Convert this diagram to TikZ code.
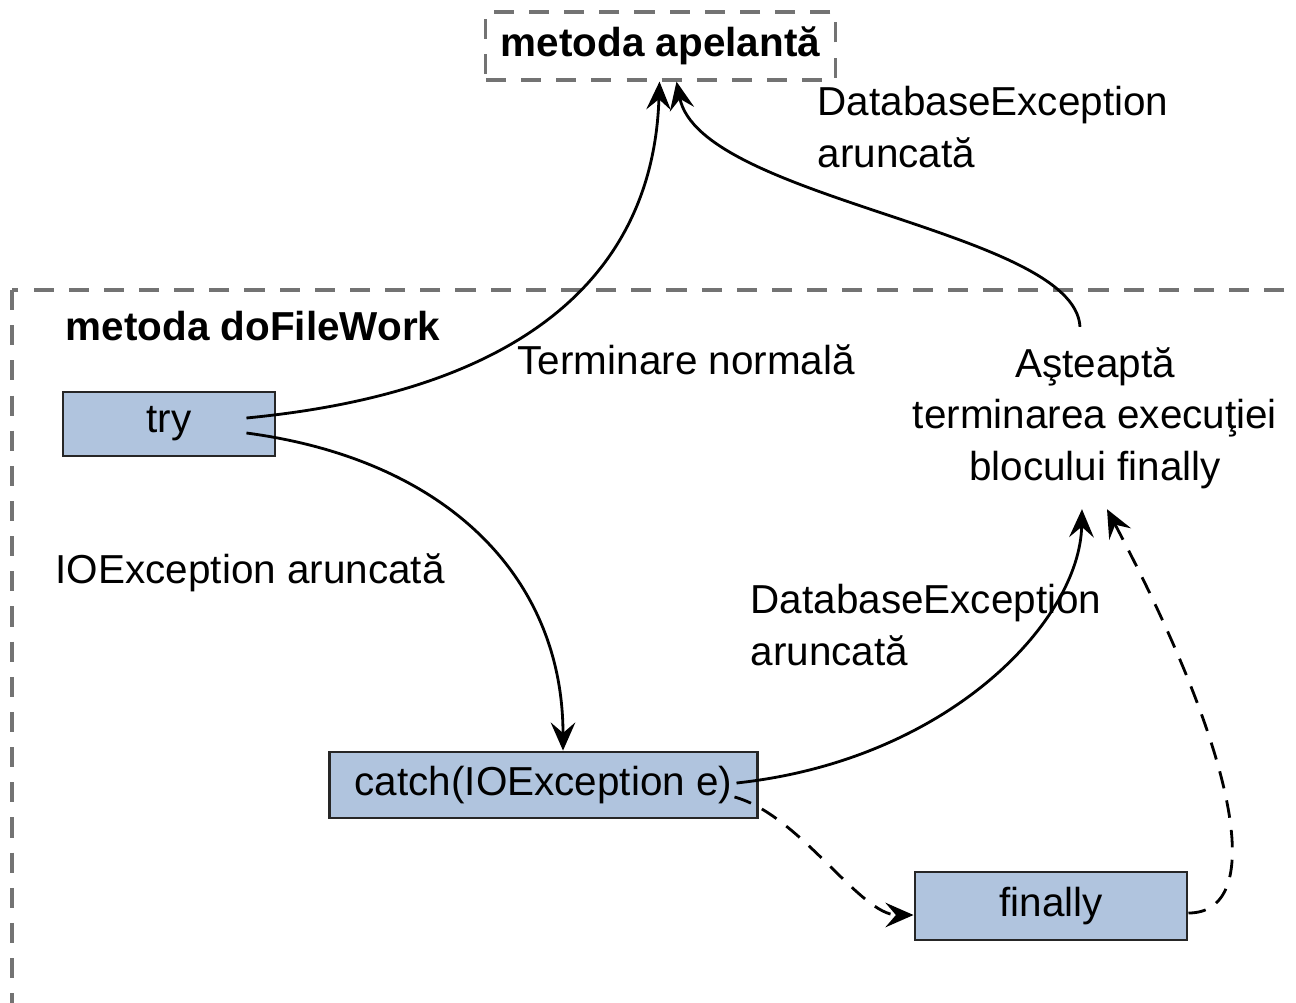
\documentclass[tikz,border=0pt]{standalone}
\usepackage{fontspec}
\setmainfont{Liberation Sans}
\usetikzlibrary{arrows,arrows.meta}
\definecolor{blockblue}{RGB}{176,196,222}
\definecolor{framegray}{RGB}{115,115,115}

\begin{document}
\begin{tikzpicture}[x=0.01cm,y=-0.01cm,
	every node/.style={font=\fontsize{11.5}{14.6}\selectfont},
	boldtext/.style={font=\fontsize{11.5}{14.6}\selectfont\bfseries},
	block/.style={rectangle,draw=black!85,line width=0.8pt,fill=blockblue,inner sep=0pt},
	txt/.style={inner sep=0pt,align=left,anchor=west},
	dashbox/.style={draw=framegray,line width=0.9pt,dash pattern=on 5.7pt off 4.3pt},
	flow/.style={line width=0.8pt,-{Stealth[length=8pt,width=7pt,inset=3pt]}},
	dashflow/.style={flow,dash pattern=on 5pt off 3.5pt}]
		\clip (0,0) rectangle (1296,1003);
%		\draw[help lines] (0,0) grid (1296,1003);
		\path (169,424) coordinate (try_c);
		\path (543.5,785) coordinate (catch_c);
		\path (1051,906) coordinate (finally_c);
		\path (660.5,46) coordinate (caller_c);
		\path (1095,418) coordinate (wait_c);

		% method frame, runs off the page on the right and bottom
		\draw[dashbox] (12,290) rectangle (1340,1040);
		\node[txt,boldtext] (work) at (65,326) {metoda doFileWork};

		\node[dashbox,minimum width=3.49cm,minimum height=0.68cm,boldtext] (caller) at (caller_c) {metoda apelantă};
		\node[block,minimum width=2.12cm,minimum height=0.64cm] (try) at (try_c) {try};
		\node[block,minimum width=4.27cm,minimum height=0.66cm] (catch) at (catch_c) {catch(IOException e)};
		\node[block,minimum width=2.72cm,minimum height=0.68cm] (finally) at (finally_c) {finally};
		\node[align=center,inner sep=0.2cm] (wait) at (wait_c) {Aşteaptă\\terminarea execuţiei\\blocului finally};

		\node[txt] (normal) at (517,360) {Terminare normală};
		\node[txt] (ioexc) at (55,573) {IOException aruncată};
		\node[txt] (dbexc_top) at (817,127) {DatabaseException\\aruncată};
		\node[txt] (dbexc_low) at (750,625) {DatabaseException\\aruncată};

		\draw[flow] ([xshift=-0.3cm,yshift=0.06cm]try.east) .. controls (590,385) and (655,220) .. ([xshift=-0.01cm]caller.south);
		\draw[flow] ([xshift=-0.3cm,yshift=-0.09cm]try.east) .. controls (450,460) and (563,580) .. ([xshift=0.195cm]catch.north);
		\draw[flow] ([xshift=-0.15cm]wait.north) .. controls (1075,230) and (700,200) .. ([xshift=0.16cm]caller.south);
		\draw[flow] ([xshift=-0.22cm,yshift=0.02cm]catch.east) .. controls (950,760) and (1080,620) .. ([xshift=-0.13cm]wait.south);
		\draw[dashflow] ([xshift=-0.24cm,yshift=-0.12cm]catch.east) .. controls (800,815) and (860,915) .. ([yshift=-0.09cm]finally.west);
		\draw[dashflow] ([yshift=-0.07cm]finally.east) .. controls (1260,913) and (1250,780) .. ([xshift=0.12cm]wait.south);
	\end{tikzpicture}
\end{document}
